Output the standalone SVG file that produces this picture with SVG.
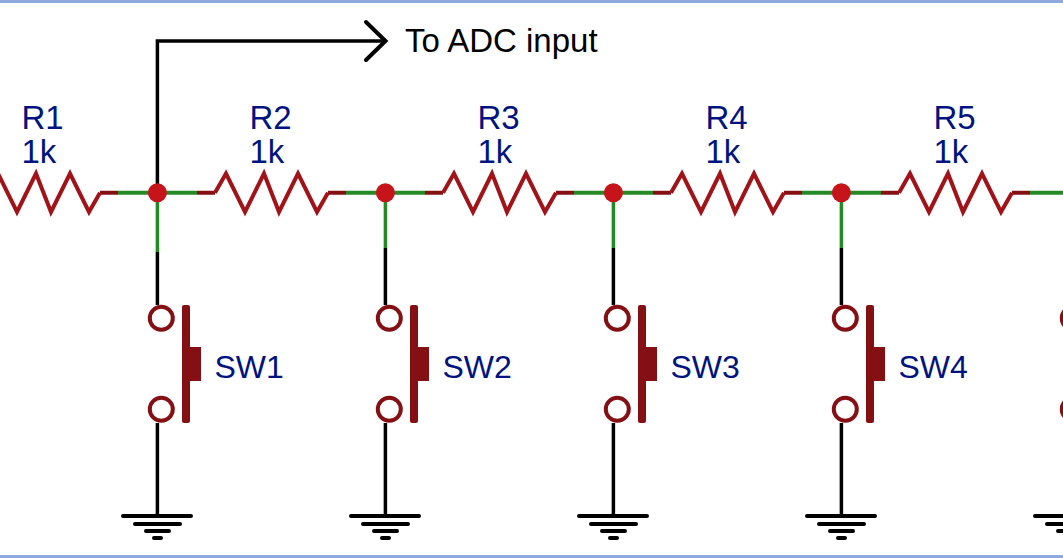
<svg xmlns="http://www.w3.org/2000/svg" width="1063" height="558" viewBox="0 0 1063 558">
<style>
.t{font-family:"Liberation Sans",Arial,sans-serif;font-size:33px;fill:#00137f}
.s{font-size:32px}
.w{fill:none;stroke-width:3.5}
.h{stroke-width:4}
.g{stroke:#258a25}
.k{stroke:#000}
.z{fill:none;stroke:#a01319;stroke-width:4;stroke-linejoin:miter}
.l{fill:none;stroke:#851014;stroke-width:4}
.dot{fill:#c5151b}
.c{fill:none;stroke:#851014;stroke-width:4}
.sw{fill:#851014}
.gnd{stroke:#000;stroke-width:4;stroke-linecap:round;fill:none}
</style>
<defs>
<g id="res"><path class="l" d="M-18 192.7H0M113 192.7H131"/><path class="z" d="M0 192.7L11 173.5L30 212L49 173.5L64 212L83 173.5L102 212L113 192.7"/></g>
<g id="swsym"><circle class="c" cx="161.3" cy="318.3" r="11.5"/><circle class="c" cx="161.3" cy="409.3" r="11.5"/><rect class="sw" x="182" y="305" width="8" height="118" rx="2"/><rect class="sw" x="190" y="347" width="11" height="34"/></g>
<path id="gndsym" class="gnd" d="M123 516H191M135 524H180M146 531H169M154 538H161"/>
</defs>
<rect x="0" y="0" width="1063" height="3" fill="#8eaadb"/>
<rect x="0" y="555" width="1063" height="3" fill="#8eaadb"/>
<g id="connectors">
<path class="w h g" d="M118 192.7H197M346 192.7H425M574 192.7H653M802 192.7H881M1030 192.7H1063"/>
<path class="w g" d="M157.4 192.7V252M385.4 192.7V248M613.4 192.7V248M841.4 192.7V248"/>
<path class="w k" d="M157.4 186V41H385M385.4 248V305M613.4 248V305M841.4 248V305M157.4 423V516M385.4 423V516M613.4 423V516M841.4 423V516M157.4 252V305"/>
<path d="M366 22L385.5 41L366 60" fill="none" stroke="#000" stroke-width="4" stroke-linecap="round"/>
</g>
<g id="R1"><use href="#res" x="-13"/><text class="t" x="21.5" y="129">R1</text><text class="t" x="21.5" y="163">1k</text></g>
<g id="R2"><use href="#res" x="215"/><text class="t" x="249.5" y="129">R2</text><text class="t" x="249.5" y="163">1k</text></g>
<g id="R3"><use href="#res" x="443"/><text class="t" x="477.5" y="129">R3</text><text class="t" x="477.5" y="163">1k</text></g>
<g id="R4"><use href="#res" x="671"/><text class="t" x="705.5" y="129">R4</text><text class="t" x="705.5" y="163">1k</text></g>
<g id="R5"><use href="#res" x="899"/><text class="t" x="933.5" y="129">R5</text><text class="t" x="933.5" y="163">1k</text></g>
<g id="J1"><circle class="dot" cx="157.4" cy="192.7" r="9.5"/></g>
<g id="J2"><circle class="dot" cx="385.4" cy="192.7" r="9.5"/></g>
<g id="J3"><circle class="dot" cx="613.4" cy="192.7" r="9.5"/></g>
<g id="J4"><circle class="dot" cx="841.4" cy="192.7" r="9.5"/></g>
<g id="SW1"><use href="#swsym"/><text class="t s" x="214.5" y="378">SW1</text></g>
<g id="SW2"><use href="#swsym" x="228"/><text class="t s" x="442.5" y="378">SW2</text></g>
<g id="SW3"><use href="#swsym" x="456"/><text class="t s" x="670.5" y="378">SW3</text></g>
<g id="SW4"><use href="#swsym" x="684"/><text class="t s" x="898.5" y="378">SW4</text></g>
<g id="SW5"><use href="#swsym" x="912"/></g>
<g id="GND1"><use href="#gndsym"/></g>
<g id="GND2"><use href="#gndsym" x="228"/></g>
<g id="GND3"><use href="#gndsym" x="456"/></g>
<g id="GND4"><use href="#gndsym" x="684"/></g>
<g id="GND5"><use href="#gndsym" x="912"/></g>
<g id="ADC"><text x="405" y="52" style="font-family:'Liberation Sans',Arial,sans-serif;font-size:33px;fill:#000">To ADC input</text></g>
</svg>
